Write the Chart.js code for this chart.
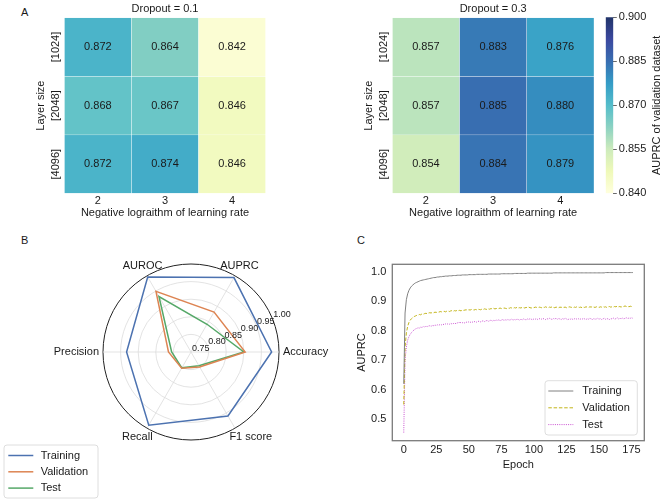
<!DOCTYPE html>
<html>
<head>
<meta charset="utf-8">
<script src="https://cdn.jsdelivr.net/npm/chart.js@4.4.0/dist/chart.umd.min.js"></script>
<style>
  body { margin: 0; background: #fff; width: 668px; height: 503px; position: relative; overflow: hidden;
         font-family: "Liberation Sans", Arial, sans-serif; }
  canvas { position: absolute; }
  .letter { position: absolute; font-size: 11px; line-height: 13px; color: #1a1a1a; }
</style>
</head>
<body>
<div class="letter" style="left:21px;top:6px">A</div>
<div class="letter" style="left:21px;top:234px">B</div>
<div class="letter" style="left:357px;top:234px">C</div>
<canvas id="heat1" width="330" height="225" style="left:0;top:0"></canvas>
<canvas id="heat2" width="270" height="225" style="left:330px;top:0"></canvas>
<canvas id="cbar" width="108" height="225" style="left:560px;top:0"></canvas>
<canvas id="radar" width="340" height="278" style="left:0;top:225px"></canvas>
<canvas id="curve" width="338" height="278" style="left:330px;top:225px"></canvas>
<script>
// ---- data ----
const lrLabels = ['2', '3', '4'];
const layerSizes = ['[1024]', '[2048]', '[4096]'];
const auprcDrop01 = [
  [0.872, 0.864, 0.842],
  [0.868, 0.867, 0.846],
  [0.872, 0.874, 0.846]
];
const auprcDrop03 = [
  [0.857, 0.883, 0.876],
  [0.857, 0.885, 0.880],
  [0.854, 0.884, 0.879]
];
const cbarTicks = [0.840, 0.855, 0.870, 0.885, 0.900];

const radarLabels = ['Accuracy', 'F1 score', 'Recall', 'Precision', 'AUROC', 'AUPRC'];
const radarTraining = [0.979, 0.960, 0.990, 0.933, 0.996, 0.994];
const radarValidation = [0.904, 0.799, 0.803, 0.814, 0.949, 0.881];
const radarTest = [0.900, 0.795, 0.802, 0.805, 0.932, 0.841];
const radarTicks = [0.75, 0.80, 0.85, 0.90, 0.95, 1.00];

const trainAuprc = [
  0.620, 0.860, 0.905, 0.925, 0.937, 0.945, 0.951, 0.955, 0.959, 0.962,
  0.964, 0.966, 0.968, 0.970, 0.971, 0.972, 0.973, 0.974, 0.975, 0.976,
  0.977, 0.978, 0.979, 0.980, 0.980, 0.981, 0.982, 0.982, 0.983, 0.983,
  0.984, 0.984, 0.985, 0.985, 0.985, 0.986, 0.986, 0.986, 0.987, 0.987,
  0.987, 0.988, 0.988, 0.988, 0.988, 0.989, 0.989, 0.989, 0.989, 0.989,
  0.990, 0.990, 0.990, 0.990, 0.990, 0.990, 0.991, 0.991, 0.991, 0.991,
  0.991, 0.991, 0.991, 0.991, 0.991, 0.992, 0.992, 0.992, 0.992, 0.992,
  0.992, 0.992, 0.992, 0.992, 0.992, 0.993, 0.993, 0.993, 0.993, 0.993,
  0.993, 0.993, 0.993, 0.993, 0.993, 0.994, 0.994, 0.994, 0.994, 0.994,
  0.994, 0.994, 0.994, 0.994, 0.994, 0.995, 0.995, 0.995, 0.995, 0.995,
  0.995, 0.995, 0.995, 0.995, 0.995, 0.995, 0.995, 0.995, 0.995, 0.995,
  0.995, 0.995, 0.995, 0.995, 0.995, 0.996, 0.996, 0.996, 0.996, 0.996,
  0.996, 0.996, 0.996, 0.996, 0.996, 0.996, 0.996, 0.996, 0.996, 0.996,
  0.996, 0.996, 0.996, 0.996, 0.996, 0.996, 0.996, 0.996, 0.996, 0.996,
  0.996, 0.996, 0.996, 0.996, 0.996, 0.996, 0.996, 0.996, 0.996, 0.996,
  0.996, 0.996, 0.996, 0.996, 0.996, 0.997, 0.997, 0.997, 0.997, 0.997,
  0.997, 0.997, 0.997, 0.997, 0.997, 0.997, 0.997, 0.997, 0.997, 0.997,
  0.997, 0.997, 0.997, 0.997, 0.997, 0.997, 0.997
];
const validAuprc = [
  0.550, 0.745, 0.792, 0.815, 0.828, 0.836, 0.841, 0.845, 0.848, 0.850,
  0.852, 0.853, 0.855, 0.854, 0.857, 0.856, 0.858, 0.859, 0.858, 0.860,
  0.861, 0.860, 0.862, 0.861, 0.863, 0.862, 0.864, 0.863, 0.865, 0.864,
  0.865, 0.866, 0.864, 0.866, 0.867, 0.865, 0.867, 0.868, 0.866, 0.868,
  0.867, 0.869, 0.868, 0.869, 0.867, 0.870, 0.869, 0.870, 0.871, 0.869,
  0.871, 0.870, 0.872, 0.871, 0.870, 0.872, 0.871, 0.873, 0.872, 0.871,
  0.873, 0.872, 0.874, 0.873, 0.872, 0.874, 0.873, 0.875, 0.874, 0.876,
  0.874, 0.875, 0.876, 0.875, 0.877, 0.875, 0.876, 0.877, 0.876, 0.875,
  0.877, 0.876, 0.878, 0.877, 0.876, 0.878, 0.877, 0.879, 0.877, 0.878,
  0.877, 0.879, 0.878, 0.877, 0.879, 0.878, 0.880, 0.878, 0.877, 0.879,
  0.878, 0.880, 0.879, 0.878, 0.880, 0.879, 0.878, 0.880, 0.879, 0.881,
  0.879, 0.878, 0.880, 0.879, 0.881, 0.879, 0.878, 0.880, 0.879, 0.878,
  0.880, 0.879, 0.881, 0.879, 0.880, 0.878, 0.879, 0.881, 0.880, 0.879,
  0.878, 0.880, 0.879, 0.881, 0.880, 0.879, 0.880, 0.878, 0.880, 0.879,
  0.881, 0.880, 0.879, 0.881, 0.880, 0.882, 0.880, 0.879, 0.881, 0.880,
  0.879, 0.881, 0.880, 0.882, 0.880, 0.881, 0.879, 0.881, 0.882, 0.880,
  0.881, 0.880, 0.882, 0.881, 0.883, 0.881, 0.882, 0.880, 0.883, 0.882,
  0.884, 0.882, 0.883, 0.881, 0.883, 0.882, 0.883
];
const testAuprc = [
  0.455, 0.700, 0.745, 0.768, 0.780, 0.788, 0.794, 0.799, 0.803, 0.806,
  0.808, 0.810, 0.809, 0.812, 0.811, 0.814, 0.813, 0.815, 0.814, 0.816,
  0.817, 0.815, 0.818, 0.817, 0.819, 0.818, 0.820, 0.819, 0.821, 0.820,
  0.822, 0.821, 0.823, 0.821, 0.824, 0.822, 0.825, 0.823, 0.824, 0.826,
  0.824, 0.827, 0.825, 0.830, 0.826, 0.827, 0.828, 0.826, 0.829, 0.828,
  0.830, 0.828, 0.831, 0.829, 0.830, 0.832, 0.829, 0.831, 0.833, 0.830,
  0.832, 0.834, 0.831, 0.833, 0.835, 0.832, 0.834, 0.836, 0.833, 0.835,
  0.834, 0.836, 0.835, 0.837, 0.834, 0.836, 0.838, 0.835, 0.837, 0.836,
  0.838, 0.836, 0.837, 0.839, 0.836, 0.838, 0.837, 0.839, 0.838, 0.836,
  0.839, 0.837, 0.840, 0.838, 0.837, 0.840, 0.838, 0.841, 0.839, 0.837,
  0.840, 0.839, 0.841, 0.838, 0.840, 0.842, 0.839, 0.841, 0.840, 0.838,
  0.841, 0.839, 0.842, 0.840, 0.838, 0.841, 0.840, 0.842, 0.839, 0.841,
  0.840, 0.838, 0.841, 0.839, 0.842, 0.840, 0.837, 0.840, 0.839, 0.841,
  0.838, 0.840, 0.842, 0.839, 0.841, 0.838, 0.840, 0.839, 0.842, 0.840,
  0.838, 0.841, 0.839, 0.842, 0.840, 0.838, 0.841, 0.839, 0.840, 0.842,
  0.839, 0.841, 0.838, 0.840, 0.842, 0.839, 0.841, 0.840, 0.838, 0.841,
  0.840, 0.843, 0.839, 0.841, 0.844, 0.840, 0.842, 0.841, 0.843, 0.840,
  0.842, 0.844, 0.841, 0.843, 0.842, 0.844, 0.842
];
const epochTicks = [0, 25, 50, 75, 100, 125, 150, 175];
const auprcTicks = [0.5, 0.6, 0.7, 0.8, 0.9, 1.0];

// ---- styling helpers ----
const FONT = '"Liberation Sans", Arial, sans-serif';
Chart.defaults.font.family = FONT;
Chart.defaults.font.size = 11;
Chart.defaults.color = '#1a1a1a';

// YlGnBu colour map, vmin 0.84 .. vmax 0.90 (slightly washed like the figure)
const ylgnbu = ['#ffffd9', '#edf8b1', '#c7e9b4', '#7fcdbb', '#41b6c4', '#1d91c0', '#225ea8', '#253494', '#081d58'];
const WASH = 0.9;
function hexToRgb(h) {
  return [parseInt(h.slice(1, 3), 16), parseInt(h.slice(3, 5), 16), parseInt(h.slice(5, 7), 16)];
}
function washed(rgb) {
  return 'rgb(' + rgb.map(x => Math.round(x * WASH + 255 * (1 - WASH))).join(',') + ')';
}
function cmap(v) {
  let t = (v - 0.84) / 0.06;
  t = Math.max(0, Math.min(1, t)) * 8;
  const i = Math.min(7, Math.floor(t));
  const f = t - i;
  const a = hexToRgb(ylgnbu[i]), b = hexToRgb(ylgnbu[i + 1]);
  return washed(a.map((x, k) => x + (b[k] - x) * f));
}

function rotText(ctx, text, x, y) {
  ctx.save();
  ctx.translate(x, y);
  ctx.rotate(-Math.PI / 2);
  ctx.fillText(text, 0, 0);
  ctx.restore();
}

// cell values, title and row labels of a heatmap
const heatText = {
  id: 'heatText',
  afterDatasetsDraw(chart, args, opts) {
    const { ctx, chartArea: a } = chart;
    ctx.save();
    ctx.fillStyle = '#1a1a1a';
    ctx.font = '11px ' + FONT;
    ctx.textAlign = 'center';
    ctx.textBaseline = 'middle';
    chart.data.datasets.forEach((ds, r) => {
      const bars = chart.getDatasetMeta(r).data;
      bars.forEach((bar, j) => {
        ctx.fillText(ds.values[j].toFixed(3), bar.x, (bar.y + bar.base) / 2);
      });
      rotText(ctx, layerSizes[r], a.left - 8, (bars[0].y + bars[0].base) / 2);
    });
    rotText(ctx, 'Layer size', a.left - 23.5, (a.top + a.bottom) / 2);
    ctx.fillText(opts.title, (a.left + a.right) / 2, a.top - 8.5);
    ctx.restore();
  }
};

function makeHeatmap(id, values, title, padding) {
  const canvas = document.getElementById(id);
  return new Chart(canvas, {
    type: 'bar',
    data: {
      labels: lrLabels,
      datasets: layerSizes.map((name, r) => ({
        label: name,
        data: values[r].map(() => [r, r + 1]),
        values: values[r],
        backgroundColor: values[r].map(cmap),
        borderColor: 'rgba(255,255,255,0.6)',
        borderWidth: 0.5,
        borderSkipped: false,
        grouped: false,
        categoryPercentage: 1,
        barPercentage: 1
      }))
    },
    options: {
      responsive: false,
      animation: false,
      layout: { padding: padding },
      plugins: { legend: { display: false }, tooltip: { enabled: false }, heatText: { title: title } },
      scales: {
        x: {
          grid: { display: false, drawTicks: false },
          border: { display: false },
          ticks: { padding: 1 },
          title: { display: true, text: 'Negative lograithm of learning rate', padding: { top: 0, bottom: 5 } },
          afterFit: s => { s.height = canvas.height - 193.5; }
        },
        y: { display: false, min: 0, max: 3, reverse: true }
      }
    },
    plugins: [heatText]
  });
}

makeHeatmap('heat1', auprcDrop01, 'Dropout = 0.1', { left: 64.3, top: 17.7, right: 64.3, bottom: 0 });
makeHeatmap('heat2', auprcDrop03, 'Dropout = 0.3', { left: 62.3, top: 17.7, right: 6, bottom: 0 });

// colour bar
const cbarTitle = {
  id: 'cbarTitle',
  afterDraw(chart) {
    const { ctx, chartArea: a } = chart;
    ctx.save();
    ctx.fillStyle = '#1a1a1a';
    ctx.font = '11px ' + FONT;
    ctx.textAlign = 'center';
    ctx.textBaseline = 'middle';
    rotText(ctx, 'AUPRC of validation dataset', 96.7, (a.top + a.bottom) / 2);
    ctx.restore();
  }
};
new Chart(document.getElementById('cbar'), {
  type: 'bar',
  data: {
    labels: [''],
    datasets: [{
      data: [[cbarTicks[0], cbarTicks[cbarTicks.length - 1]]],
      backgroundColor: c => {
        const a = c.chart.chartArea;
        if (!a) return ylgnbu[4];
        const g = c.chart.ctx.createLinearGradient(0, a.bottom, 0, a.top);
        ylgnbu.forEach((col, i) => g.addColorStop(i / 8, washed(hexToRgb(col))));
        return g;
      },
      borderWidth: 0,
      categoryPercentage: 1,
      barPercentage: 1
    }]
  },
  options: {
    responsive: false,
    animation: false,
    layout: { padding: { left: 45.7, top: 17.3, bottom: 225 - 193.3, right: 0 } },
    plugins: { legend: { display: false }, tooltip: { enabled: false } },
    scales: {
      x: { display: false },
      y: {
        position: 'right',
        min: 0.84, max: 0.90,
        afterBuildTicks: s => { s.ticks = cbarTicks.map(v => ({ value: v })); },
        ticks: { callback: v => v.toFixed(3), padding: 2 },
        grid: { drawOnChartArea: false, tickLength: 3.5, color: '#444', lineWidth: 0.8 },
        border: { display: false },
        afterFit: s => { s.width = 108 - 53.3; }
      }
    }
  },
  plugins: [cbarTitle]
});

// legend drawn in a box, reading colours and dashes from the datasets
const boxLegend = {
  id: 'boxLegend',
  afterDraw(chart, args, o) {
    const ctx = chart.ctx;
    ctx.save();
    ctx.fillStyle = 'rgba(255,255,255,0.85)';
    ctx.strokeStyle = '#d6d6d6';
    ctx.lineWidth = 0.8;
    ctx.beginPath();
    ctx.roundRect(o.left, o.top, o.width, o.height, 3);
    ctx.fill();
    ctx.stroke();
    ctx.font = '11px ' + FONT;
    ctx.textBaseline = 'middle';
    ctx.textAlign = 'left';
    chart.data.datasets.forEach((ds, i) => {
      const y = o.firstY + i * o.step;
      ctx.strokeStyle = ds.borderColor;
      ctx.lineWidth = ds.borderWidth || 1.5;
      ctx.setLineDash(ds.borderDash || []);
      ctx.beginPath();
      ctx.moveTo(o.lineFrom, y);
      ctx.lineTo(o.lineTo, y);
      ctx.stroke();
      ctx.setLineDash([]);
      ctx.fillStyle = '#1a1a1a';
      ctx.fillText(ds.label, o.textX, y);
    });
    ctx.restore();
  }
};

// radar tick and point labels
const radarText = {
  id: 'radarText',
  afterDraw(chart) {
    const r = chart.scales.r;
    const ctx = chart.ctx;
    ctx.save();
    ctx.fillStyle = '#1a1a1a';
    ctx.font = '9px ' + FONT;
    ctx.textAlign = 'left';
    ctx.textBaseline = 'bottom';
    const ang = -22.5 * Math.PI / 180;
    radarTicks.forEach(v => {
      const d = r.getDistanceFromCenterForValue(v);
      ctx.fillText(v.toFixed(2), r.xCenter + d * Math.cos(ang) + 1, r.yCenter + d * Math.sin(ang) + 1);
    });
    ctx.font = '11px ' + FONT;
    ctx.textBaseline = 'middle';
    radarLabels.forEach((lab, i) => {
      const p = r.getPointPosition(i, r.drawingArea * 1.1);
      const c = Math.cos(p.angle), s = Math.sin(p.angle);
      if (c > 0.9) {
        ctx.textAlign = 'left';
        ctx.fillText(lab, r.xCenter + r.drawingArea + 4, p.y);
      } else if (c < -0.9) {
        ctx.textAlign = 'right';
        ctx.fillText(lab, r.xCenter - r.drawingArea - 4, p.y);
      } else if (s < 0) {
        ctx.textAlign = 'center';
        ctx.fillText(lab, p.x, p.y - 2);
      } else {
        ctx.textAlign = c < 0 ? 'right' : 'left';
        ctx.fillText(lab, p.x + (c < 0 ? 10 : -10), p.y + 1.5);
      }
    });
    ctx.restore();
  }
};

new Chart(document.getElementById('radar'), {
  type: 'radar',
  data: {
    labels: radarLabels,
    datasets: [
      { label: 'Training', data: radarTraining, borderColor: '#4c72b0' },
      { label: 'Validation', data: radarValidation, borderColor: '#dd8452' },
      { label: 'Test', data: radarTest, borderColor: '#55a868' }
    ]
  },
  options: {
    responsive: false,
    animation: false,
    layout: { padding: { left: 103, right: 61, top: 39.5, bottom: 62.5 } },
    elements: { line: { borderWidth: 1.5, tension: 0, fill: false }, point: { radius: 0 } },
    plugins: {
      legend: { display: false },
      tooltip: { enabled: false },
      boxLegend: { left: 4, top: 220, width: 94, height: 53, lineFrom: 8.3, lineTo: 33.3, textX: 40.7, firstY: 230.5, step: 16.3 }
    },
    scales: {
      r: {
        min: 0.75, max: 1.0,
        startAngle: 90,
        ticks: { display: false, stepSize: 0.05 },
        pointLabels: { display: false },
        grid: {
          circular: true,
          color: c => (c.tick && c.tick.value > 0.999 ? '#222' : '#dcdcdc'),
          lineWidth: c => (c.tick && c.tick.value > 0.999 ? 1 : 0.8)
        },
        angleLines: { color: '#dcdcdc', lineWidth: 0.8 }
      }
    }
  },
  plugins: [radarText, boxLegend]
});

// training curves
const frame = {
  id: 'frame',
  afterDraw(chart) {
    const { ctx, chartArea: a } = chart;
    ctx.save();
    ctx.strokeStyle = '#7a7a7a';
    ctx.lineWidth = 1.3;
    ctx.strokeRect(a.left, a.top, a.right - a.left, a.bottom - a.top);
    ctx.restore();
  }
};

new Chart(document.getElementById('curve'), {
  type: 'line',
  data: {
    datasets: [
      { label: 'Training', data: trainAuprc.map((v, i) => ({ x: i, y: v })), borderColor: '#808080', borderWidth: 1 },
      { label: 'Validation', data: validAuprc.map((v, i) => ({ x: i, y: v })), borderColor: '#c2b419', borderWidth: 1, borderDash: [3.5, 1.8] },
      { label: 'Test', data: testAuprc.map((v, i) => ({ x: i, y: v })), borderColor: '#c94fd0', borderWidth: 1, borderDash: [1, 1.2] }
    ]
  },
  options: {
    responsive: false,
    animation: false,
    layout: { padding: { left: 0, top: 39.3, right: 23.7, bottom: 0 } },
    elements: { point: { radius: 0 }, line: { tension: 0 } },
    plugins: {
      legend: { display: false },
      tooltip: { enabled: false },
      boxLegend: { left: 215, top: 155.7, width: 92.3, height: 54.3, lineFrom: 218.3, lineTo: 243.3, textX: 252.3, firstY: 166, step: 16.8 }
    },
    scales: {
      x: {
        type: 'linear', min: -8.8, max: 184.8,
        afterBuildTicks: s => { s.ticks = epochTicks.map(v => ({ value: v })); },
        grid: { display: false, drawTicks: false },
        border: { display: false },
        ticks: { padding: 3 },
        title: { display: true, text: 'Epoch', padding: { top: 0, bottom: 31 } },
        afterFit: s => { s.height = 278 - 215.7; }
      },
      y: {
        min: 0.4275, max: 1.025,
        afterBuildTicks: s => { s.ticks = auprcTicks.map(v => ({ value: v })); },
        grid: { display: false, drawTicks: false },
        border: { display: false },
        ticks: { padding: 6, callback: v => v.toFixed(1) },
        title: { display: true, text: 'AUPRC', padding: { top: 25, bottom: 0 } },
        afterFit: s => { s.width = 62.3; }
      }
    }
  },
  plugins: [frame, boxLegend]
});
</script>
</body>
</html>
